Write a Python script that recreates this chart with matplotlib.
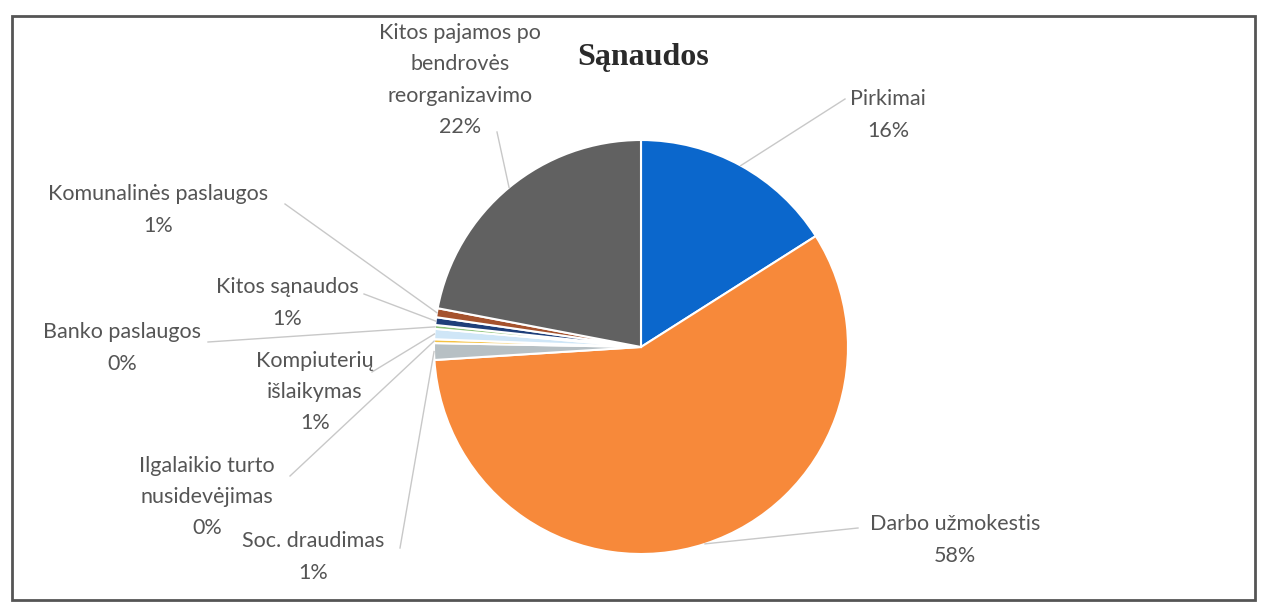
import matplotlib.pyplot as plt
import numpy as np

plt.rcParams['font.family'] = ['Lato', 'DejaVu Sans']

labels = ["Pirkimai", "Darbo užmokestis", "Soc. draudimas",
          "Ilgalaikio turto\nnusidevėjimas", "Kompiuterių\nišlaikymas",
          "Banko paslaugos", "Kitos sąnaudos", "Komunalinės paslaugos",
          "Kitos pajamos po\nbendrovės\nreorganizavimo"]
values = [16.0, 58.0, 1.3, 0.3, 0.8, 0.3, 0.6, 0.7, 22.0]
pct_labels = ["16%", "58%", "1%", "0%", "1%", "0%", "1%", "1%", "22%"]
colors = ["#0b67cc", "#f7893a", "#b7c0c4", "#f5c242", "#cfe6f7",
          "#8fc47a", "#1f3f7a", "#a5522d", "#616161"]

# label text centers and leader line end points (pixels, y down)
text_pos = [(888, 115), (955, 540), (313, 557), (207, 497), (315, 392),
            (122, 348), (287, 303), (158, 210), (460, 80)]
line_end = [(845, 99), (858, 528), (400, 548), (290, 476), (372, 372),
            (208, 342), (364, 294), (285, 204), (497, 132)]

W, H = 1264, 614
fig = plt.figure(figsize=(W / 100, H / 100), dpi=100)
ax = fig.add_axes([0, 0, 1, 1])

cx, cy, r = 641, H - 347, 207
wedges, _ = ax.pie(values, colors=colors, startangle=90, counterclock=False,
                   center=(cx, cy), radius=r, frame=True,
                   wedgeprops=dict(edgecolor='white', linewidth=1.5))
ax.set_xlim(0, W)
ax.set_ylim(0, H)
ax.axis('off')

for w, lab, pct, tp, le in zip(wedges, labels, pct_labels, text_pos, line_end):
    ang = np.deg2rad((w.theta1 + w.theta2) / 2)
    ex = cx + r * np.cos(ang)
    ey = cy + r * np.sin(ang)
    ax.plot([ex, le[0]], [ey, H - le[1]], color='#c8c8c8', lw=1, zorder=1)
    ax.text(tp[0], H - tp[1], lab + "\n" + pct, ha='center', va='center',
            fontsize=15.5, color='#555555', linespacing=1.7)

ax.text(643, H - 58, "Sąnaudos", ha='center', va='center', fontsize=23,
        fontweight='bold', family='Liberation Serif', color='#2a2a2a')

ax.add_patch(plt.Rectangle((12, 14), 1243, 584, fill=False,
                           edgecolor='#555555', lw=2))

fig.savefig("out.png", dpi=100)
